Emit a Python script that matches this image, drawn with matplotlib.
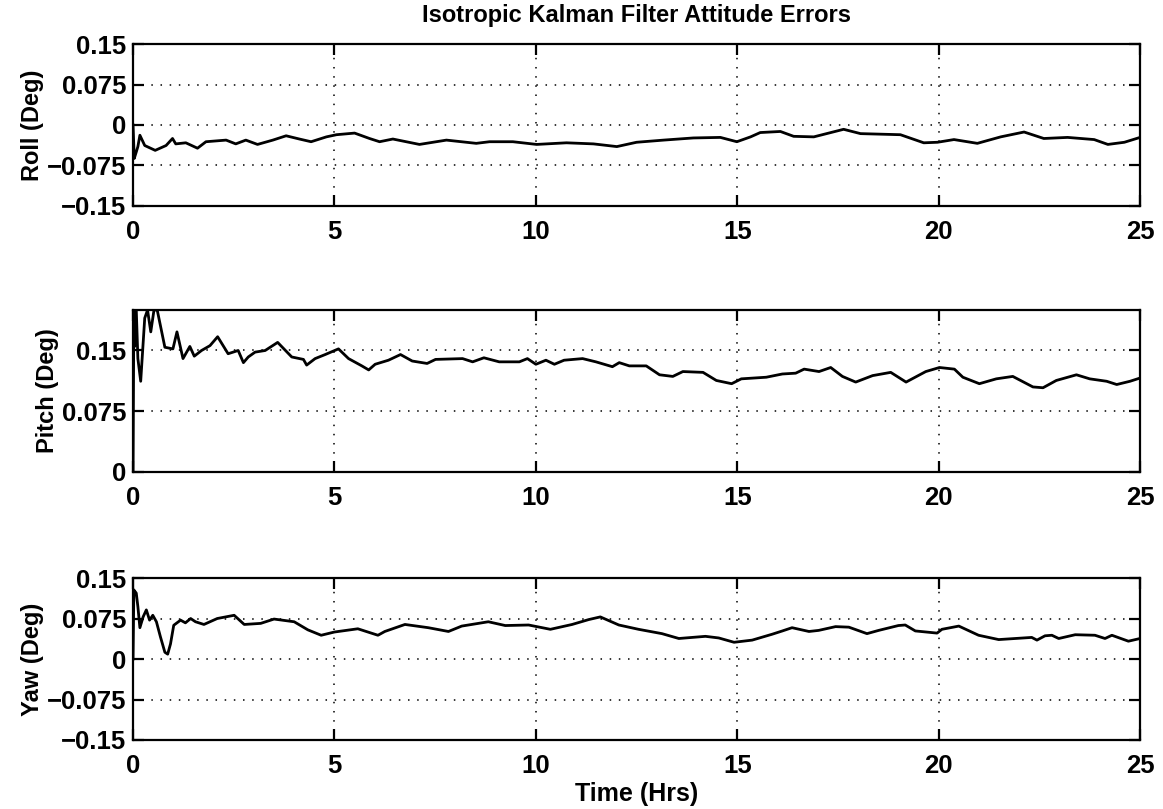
import numpy as np
import matplotlib
matplotlib.use("Agg")
import matplotlib.pyplot as plt

# values (hours, degrees)
roll_t = [0.0, 0.03, 0.08, 0.12, 0.17, 0.29, 0.55, 0.82, 0.98, 1.06, 1.31, 1.6, 1.81, 2.31, 2.55,
          2.8, 3.09, 3.47, 3.8, 4.13, 4.42, 4.8, 5.05, 5.5, 5.87, 6.12, 6.45, 7.11, 7.78, 8.52,
          8.85, 9.43, 10.02, 10.76, 11.43, 12.01, 12.5, 13.17, 13.91, 14.58, 14.99, 15.33, 15.57,
          16.07, 16.4, 16.9, 17.64, 18.06, 19.05, 19.63, 19.97, 20.38, 20.96, 21.54, 22.12, 22.61,
          23.2, 23.86, 24.2, 24.61, 25.0]
roll_v = [0.0, -0.062, -0.05, -0.04, -0.019, -0.038, -0.047, -0.038, -0.025, -0.035, -0.033,
          -0.043, -0.031, -0.028, -0.035, -0.028, -0.036, -0.028, -0.02, -0.026, -0.031, -0.022,
          -0.018, -0.015, -0.025, -0.031, -0.026, -0.036, -0.028, -0.034, -0.031, -0.031, -0.036,
          -0.033, -0.035, -0.04, -0.032, -0.028, -0.024, -0.023, -0.031, -0.022, -0.014, -0.012,
          -0.021, -0.022, -0.008, -0.016, -0.018, -0.033, -0.032, -0.027, -0.034, -0.022, -0.013,
          -0.025, -0.023, -0.027, -0.036, -0.032, -0.023]

pitch_t = [0.0, 0.02, 0.04, 0.08, 0.12, 0.19, 0.29, 0.36, 0.44, 0.52, 0.6, 0.79, 0.99, 1.09,
           1.24, 1.41, 1.52, 1.7, 1.91, 2.1, 2.36, 2.61, 2.74, 2.86, 3.03, 3.28, 3.59, 3.94, 4.23,
           4.31, 4.52, 4.77, 5.1, 5.35, 5.68, 5.85, 6.01, 6.34, 6.64, 6.93, 7.3, 7.51, 8.18, 8.43,
           8.71, 9.09, 9.59, 9.79, 10.0, 10.25, 10.46, 10.7, 11.16, 11.49, 11.9, 12.07, 12.32,
           12.74, 13.07, 13.4, 13.65, 14.15, 14.48, 14.86, 15.1, 15.72, 16.12, 16.45, 16.66, 17.03,
           17.32, 17.61, 17.94, 18.36, 18.81, 19.19, 19.68, 20.02, 20.39, 20.6, 21.01, 21.43, 21.84,
           22.34, 22.59, 22.92, 23.42, 23.75, 24.17, 24.42, 24.75, 25.0]
pitch_v = [0.0, 0.2, 0.155, 0.2, 0.14, 0.112, 0.19, 0.2, 0.173, 0.2, 0.2, 0.154, 0.152, 0.173,
           0.14, 0.155, 0.143, 0.15, 0.156, 0.167, 0.146, 0.15, 0.135, 0.142, 0.148, 0.15, 0.16,
           0.142, 0.139, 0.132, 0.14, 0.145, 0.152, 0.14, 0.131, 0.126, 0.133, 0.138, 0.145, 0.137,
           0.134, 0.139, 0.14, 0.136, 0.141, 0.136, 0.136, 0.14, 0.133, 0.138, 0.133, 0.138, 0.14,
           0.136, 0.13, 0.135, 0.131, 0.131, 0.12, 0.118, 0.124, 0.123, 0.113, 0.109, 0.115, 0.117,
           0.121, 0.122, 0.127, 0.124, 0.129, 0.118, 0.111, 0.119, 0.123, 0.111, 0.124, 0.129,
           0.127, 0.117, 0.109, 0.115, 0.118, 0.105, 0.104, 0.113, 0.12, 0.115, 0.112, 0.108,
           0.112, 0.116]

yaw_t = [0.0, 0.02, 0.08, 0.12, 0.17, 0.25, 0.33, 0.41, 0.49, 0.58, 0.68, 0.79, 0.86, 0.93,
         1.01, 1.18, 1.3, 1.43, 1.55, 1.76, 2.09, 2.51, 2.76, 3.17, 3.5, 4.0, 4.34, 4.67, 5.0,
         5.58, 6.08, 6.25, 6.75, 7.33, 7.83, 8.16, 8.82, 9.24, 9.82, 10.36, 10.9, 11.31, 11.6,
         12.06, 12.55, 13.13, 13.55, 14.21, 14.54, 14.92, 15.37, 15.87, 16.12, 16.36, 16.78,
         17.02, 17.44, 17.77, 18.22, 18.51, 19.0, 19.17, 19.42, 19.96, 20.08, 20.5, 20.99,
         21.49, 22.31, 22.44, 22.64, 22.81, 22.98, 23.39, 23.88, 24.13, 24.3, 24.71, 25.0]
yaw_v = [0.0, 0.128, 0.122, 0.097, 0.058, 0.078, 0.091, 0.072, 0.081, 0.069, 0.041, 0.0125,
         0.009, 0.028, 0.0625, 0.072, 0.067, 0.075, 0.069, 0.064, 0.075, 0.081, 0.064, 0.066,
         0.074, 0.069, 0.054, 0.044, 0.05, 0.056, 0.044, 0.051, 0.064, 0.058, 0.051, 0.061,
         0.069, 0.062, 0.063, 0.055, 0.064, 0.073, 0.078, 0.063, 0.055, 0.047, 0.038, 0.042,
         0.039, 0.031, 0.035, 0.046, 0.052, 0.058, 0.051, 0.053, 0.06, 0.059, 0.047, 0.053,
         0.062, 0.063, 0.052, 0.048, 0.055, 0.061, 0.044, 0.036, 0.04, 0.035, 0.043, 0.044,
         0.038, 0.045, 0.044, 0.038, 0.044, 0.033, 0.038]

x_ticks = [0, 5, 10, 15, 20, 25]
sym_ticks = [-0.15, -0.075, 0, 0.075, 0.15]
sym_labels = ["\u22120.15", "\u22120.075", "0", "0.075", "0.15"]
pitch_ticks = [0, 0.075, 0.15]
pitch_labels = ["0", "0.075", "0.15"]

rc = {'font.family': ['Liberation Sans', 'DejaVu Sans'],
      'font.weight': 'bold',
      'xtick.direction': 'in', 'ytick.direction': 'in',
      'xtick.top': True, 'ytick.right': True,
      'xtick.major.size': 8, 'ytick.major.size': 8,
      'xtick.major.width': 1.6, 'ytick.major.width': 1.6,
      'axes.linewidth': 1.6,
      'xtick.labelsize': 18.5, 'ytick.labelsize': 18.5}
plt.rcParams.update(rc)

fig = plt.figure(figsize=(11.63, 8.09), dpi=100)

panels = [
    ("Roll (Deg)", roll_t, roll_v, (-0.15, 0.15), sym_ticks, sym_labels, 0.7454),
    ("Pitch (Deg)", pitch_t, pitch_v, (0, 0.2), pitch_ticks, pitch_labels, 0.4166),
    ("Yaw (Deg)", yaw_t, yaw_v, (-0.15, 0.15), sym_ticks, sym_labels, 0.0853),
]

axes = []
for name, t, v, ylim, yt, yl, bottom in panels:
    ax = fig.add_axes([0.1144, bottom, 0.8659, 0.2002])
    ax.plot(t, v, color="k", lw=2.0)
    ax.set_xlim(0, 25)
    ax.set_ylim(*ylim)
    ax.set_xticks(x_ticks)
    ax.set_yticks(yt)
    ax.set_yticklabels(yl)
    ax.grid(True, color="k", linestyle=(0, (1, 5)), linewidth=1.1)
    ax.set_ylabel(name, fontsize=17, fontweight='bold', labelpad=2)
    ax.tick_params(axis='x', pad=10)
    ax.tick_params(axis='y', pad=5)
    axes.append(ax)

axes[0].set_title("Isotropic Kalman Filter Attitude Errors", fontsize=17, fontweight='bold', pad=16)
axes[2].set_xlabel("Time (Hrs)", fontsize=18, fontweight='bold', labelpad=3)

fig.savefig("out.png", dpi=100)
